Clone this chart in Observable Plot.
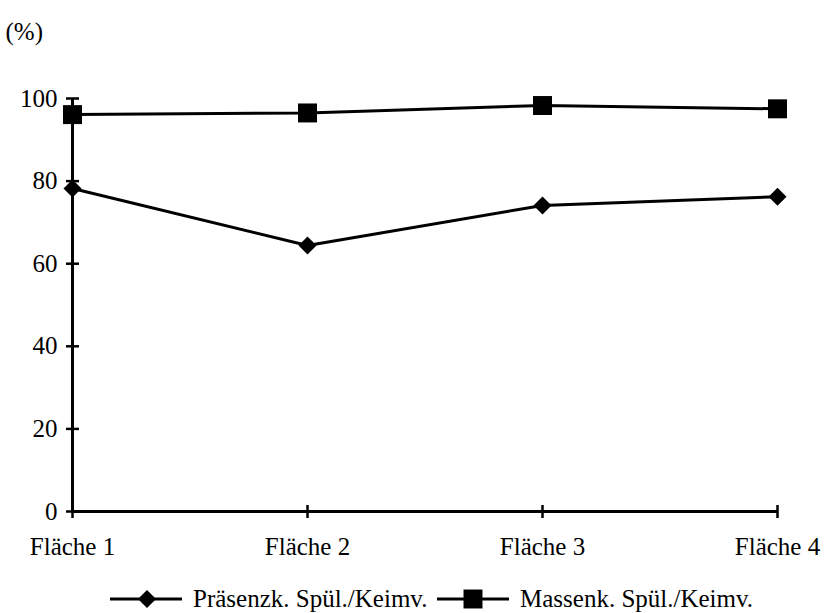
<!DOCTYPE html>
<html>
<head>
<meta charset="utf-8">
<script src="https://cdn.jsdelivr.net/npm/d3@7"></script>
<script src="https://cdn.jsdelivr.net/npm/@observablehq/plot@0.6"></script>
<style>
  body { margin: 0; background: #fff; font-family: "Liberation Serif", "Times New Roman", serif; }
  #wrap { position: relative; width: 831px; }
  #legend { position: relative; width: 831px; height: 26px; margin-top: 11px; font-size: 25px; color: #000; font-family: "Liberation Serif", serif; }
  #legend .lab { position: absolute; top: 0; line-height: 26px; white-space: nowrap; }
  #legend svg { position: absolute; left: 0; top: 0; }
</style>
</head>
<body>
<div id="wrap"></div>
<script>
const categories = ["Fläche 1", "Fläche 2", "Fläche 3", "Fläche 4"];
const praesenz = [78.2, 64.4, 74.1, 76.2];
const massen = [96.1, 96.5, 98.3, 97.5];
const yTicks = [0, 20, 40, 60, 80, 100];
const seriesNames = ["Präsenzk. Spül./Keimv.", "Massenk. Spül./Keimv."];
const yUnit = "(%)";

const rowsP = categories.map((c, i) => ({x: c, y: praesenz[i]}));
const rowsM = categories.map((c, i) => ({x: c, y: massen[i]}));

const hTick = {draw(ctx) { ctx.moveTo(-6.5, 0); ctx.lineTo(6.5, 0); }};
const vTick = {draw(ctx) { ctx.moveTo(0, -6.5); ctx.lineTo(0, 6.5); }};

const chart = Plot.plot({
  width: 831,
  height: 575,
  marginTop: 98,
  marginBottom: 64,
  marginLeft: 72,
  marginRight: 54,
  style: {fontFamily: "'Liberation Serif', 'Times New Roman', serif", fontSize: "25px", color: "#000", background: "#fff"},
  x: {domain: categories, type: "point", padding: 0},
  y: {domain: [0, 100]},
  marks: [
    Plot.axisX({tickSize: 0, tickPadding: 26, fontSize: 25, label: null}),
    Plot.axisY({ticks: yTicks, tickSize: 0, tickPadding: 15, fontSize: 25, label: null, tickFormat: d => String(d)}),
    Plot.ruleY([0], {stroke: "#000", strokeWidth: 3}),
    Plot.ruleX([categories[0]], {y1: 0, y2: 100, stroke: "#000", strokeWidth: 3}),
    Plot.dot(yTicks, {x: () => categories[0], y: d => d, symbol: hTick, stroke: "#000", strokeWidth: 2.5, fill: "none", r: 3}),
    Plot.dot(categories, {x: d => d, y: () => 0, symbol: vTick, stroke: "#000", strokeWidth: 2.5, fill: "none", r: 3}),
    Plot.line(rowsP, {x: "x", y: "y", stroke: "#000", strokeWidth: 3}),
    Plot.line(rowsM, {x: "x", y: "y", stroke: "#000", strokeWidth: 3}),
    Plot.dot(rowsP, {x: "x", y: "y", symbol: "diamond2", r: 8.1, fill: "#000", stroke: "none"}),
    Plot.dot(rowsM, {x: "x", y: "y", symbol: "square", r: 10.7, fill: "#000", stroke: "none"}),
    Plot.text([yUnit], {frameAnchor: "top-left", dx: -67, dy: -76, text: d => d, textAnchor: "start", fontSize: 25, fill: "#000", fontFamily: "'Liberation Serif', serif"})
  ]
});
document.getElementById("wrap").appendChild(chart);

// legend below the chart
const legend = document.createElement("div");
legend.id = "legend";
const ns = "http://www.w3.org/2000/svg";
const lsvg = document.createElementNS(ns, "svg");
lsvg.setAttribute("width", 831);
lsvg.setAttribute("height", 26);
function addLine(x1, x2) {
  const l = document.createElementNS(ns, "line");
  l.setAttribute("x1", x1); l.setAttribute("x2", x2);
  l.setAttribute("y1", 13); l.setAttribute("y2", 13);
  l.setAttribute("stroke", "#000"); l.setAttribute("stroke-width", 3);
  lsvg.appendChild(l);
}
function addSymbol(type, cx, size) {
  const p = document.createElementNS(ns, "path");
  p.setAttribute("d", d3.symbol(type, size)());
  p.setAttribute("transform", `translate(${cx},13)`);
  p.setAttribute("fill", "#000");
  lsvg.appendChild(p);
}
addLine(110, 182);
addSymbol(d3.symbolDiamond2, 147, Math.PI * 8.1 * 8.1);
addLine(437, 509);
addSymbol(d3.symbolSquare, 473, Math.PI * 10.7 * 10.7);
legend.appendChild(lsvg);
const t1 = document.createElement("span");
t1.className = "lab"; t1.style.left = "193px"; t1.textContent = seriesNames[0];
const t2 = document.createElement("span");
t2.className = "lab"; t2.style.left = "520px"; t2.textContent = seriesNames[1];
legend.appendChild(t1);
legend.appendChild(t2);
document.getElementById("wrap").appendChild(legend);
</script>
</body>
</html>
